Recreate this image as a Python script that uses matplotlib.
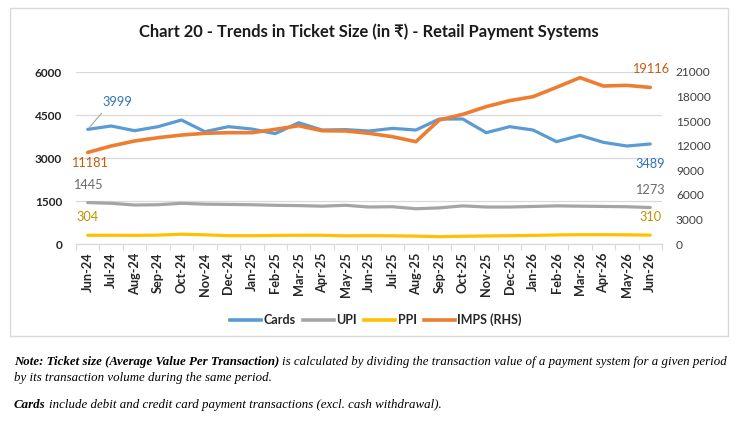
"""Chart 20 - Trends in Ticket Size (in ₹) - Retail Payment Systems."""

import matplotlib
matplotlib.use("Agg")
import matplotlib.pyplot as plt
from matplotlib.patches import Rectangle
import numpy as np

# ---------------------------------------------------------------------------
# Data
# ---------------------------------------------------------------------------
months = ["Jun-24", "Jul-24", "Aug-24", "Sep-24", "Oct-24", "Nov-24", "Dec-24",
          "Jan-25", "Feb-25", "Mar-25", "Apr-25", "May-25", "Jun-25", "Jul-25",
          "Aug-25", "Sep-25", "Oct-25", "Nov-25", "Dec-25", "Jan-26", "Feb-26",
          "Mar-26", "Apr-26", "May-26", "Jun-26"]

cards = [3999, 4116, 3953, 4093, 4325, 3918, 4093, 4011, 3850, 4230, 3976,
         3990, 3941, 4034, 3976, 4360, 4360, 3883, 4093, 3976, 3570, 3790,
         3546, 3418, 3489]
upi = [1445, 1420, 1360, 1370, 1420, 1390, 1380, 1370, 1350, 1340, 1320,
       1350, 1290, 1300, 1230, 1260, 1330, 1290, 1290, 1310, 1330, 1320,
       1310, 1300, 1273]
ppi = [304, 305, 300, 310, 340, 320, 290, 290, 300, 305, 305, 285, 290, 285,
       275, 255, 270, 280, 290, 300, 315, 325, 325, 320, 310]
imps = [11181, 11965, 12576, 12980, 13300, 13515, 13590, 13590, 14000, 14440,
        13830, 13800, 13515, 13100, 12490, 15140, 15830, 16770, 17500, 17990,
        19130, 20310, 19290, 19370, 19116]

left_ticks = [0, 1500, 3000, 4500, 6000]
right_ticks = [0, 3000, 6000, 9000, 12000, 15000, 18000, 21000]

# ---------------------------------------------------------------------------
# Style
# ---------------------------------------------------------------------------
COLORS = {
    "Cards": "#5B9BD5",
    "UPI": "#A5A5A5",
    "PPI": "#FFC000",
    "IMPS": "#ED7D31",
}
LABEL_COLORS = {
    "Cards": "#2E75B6",
    "UPI": "#6E6A6A",
    "PPI": "#BF9000",
    "IMPS": "#C55A11",
}
SANS = ["Lato", "DejaVu Sans"]
SERIF = ["Liberation Serif", "DejaVu Serif"]
NOTE_SIZE = 9.3

plt.rcParams["font.family"] = SANS

fig = plt.figure(figsize=(7.38, 4.23), dpi=100)
fig.patch.set_facecolor("white")

# light grey chart-area frame
fig.patches.append(Rectangle((10 / 738, 1 - 336 / 423), 718 / 738, 328 / 423,
                             transform=fig.transFigure, fill=False,
                             edgecolor="#D9D9D9", linewidth=1.0))

ax = fig.add_axes([76 / 738, 1 - 244 / 423, 586 / 738, 172 / 423])
ax2 = ax.twinx()

x = np.arange(len(months))

ax.plot(x, cards, color=COLORS["Cards"], linewidth=2.3, solid_capstyle="round", zorder=3)
ax.plot(x, upi, color=COLORS["UPI"], linewidth=2.3, solid_capstyle="round", zorder=3)
ax.plot(x, ppi, color=COLORS["PPI"], linewidth=2.3, solid_capstyle="round", zorder=3)
ax2.plot(x, imps, color=COLORS["IMPS"], linewidth=2.6, solid_capstyle="round", zorder=3)

ax.set_xlim(-0.5, len(months) - 0.5)
ax.set_ylim(0, 6000)
ax2.set_ylim(0, 21000)

ax.set_yticks(left_ticks)
ax.set_yticklabels([str(v) for v in left_ticks], fontsize=8.6, fontweight="bold",
                   color="#262626")
ax2.set_yticks(right_ticks)
ax2.set_yticklabels([str(v) for v in right_ticks], fontsize=8.6, color="#404040")

ax.set_xticks(x)
ax.set_xticklabels(months, rotation=90, fontsize=9.2, fontweight="bold", color="#262626")
ax.set_xticks(np.arange(-0.5, len(months), 1), minor=True)
ax.tick_params(axis="x", which="major", length=0, pad=6)
ax.tick_params(axis="x", which="minor", length=4, color="#D9D9D9", width=0.8)
ax.tick_params(axis="y", length=0, pad=10)
ax2.tick_params(axis="y", length=0, pad=10)

ax.grid(axis="y", color="#D9D9D9", linewidth=0.9)
ax.set_axisbelow(True)
for a in (ax, ax2):
    for side in ("top", "left", "right"):
        a.spines[side].set_visible(False)
    a.spines["bottom"].set_color("#D9D9D9")

# data labels at the first and last month
first, last = 0, len(months) - 1
lab = dict(fontsize=9.2, ha="center", va="center", textcoords="offset pixels")
ax.annotate(str(cards[first]), (first, cards[first]), xytext=(30, 27),
            color=LABEL_COLORS["Cards"],
            arrowprops=dict(arrowstyle="-", color="#A6A6A6", lw=0.8,
                            shrinkA=2, shrinkB=2, relpos=(0.1, 0.0)), **lab)
ax.annotate(str(cards[last]), (last, cards[last]), xytext=(0, -20),
            color=LABEL_COLORS["Cards"], **lab)
ax.annotate(str(upi[first]), (first, upi[first]), xytext=(0, 18),
            color=LABEL_COLORS["UPI"], **lab)
ax.annotate(str(upi[last]), (last, upi[last]), xytext=(0, 18),
            color=LABEL_COLORS["UPI"], **lab)
ax.annotate(str(ppi[first]), (first, ppi[first]), xytext=(0, 18),
            color=LABEL_COLORS["PPI"], **lab)
ax.annotate(str(ppi[last]), (last, ppi[last]), xytext=(0, 18),
            color=LABEL_COLORS["PPI"], **lab)
ax2.annotate(str(imps[first]), (first, imps[first]), xytext=(2, -11),
             color=LABEL_COLORS["IMPS"], **lab)
ax2.annotate(str(imps[last]), (last, imps[last]), xytext=(0, 18),
             color=LABEL_COLORS["IMPS"], **lab)

# title
fig.text(0.5, 1 - 32 / 423, "Chart 20 - Trends in Ticket Size (in ₹) - Retail Payment Systems",
         ha="center", va="center", fontsize=11.9, fontweight="bold", color="#1a1a1a",
         family=SANS)

# legend
handles = [plt.Line2D([], [], color=COLORS[k], linewidth=2.6) for k in COLORS]
leg = fig.legend(handles, ["Cards", "UPI", "PPI", "IMPS (RHS)"], loc="center",
                 bbox_to_anchor=(376 / 738, 1 - 320 / 423), ncol=4, frameon=False,
                 prop={"size": 9, "weight": "bold"}, handlelength=2.5,
                 handletextpad=0.2, columnspacing=0.55)
for t in leg.get_texts():
    t.set_color("#262626")

# notes below the chart
renderer = fig.canvas.get_renderer()


def note_line(y_px, bold_part, rest):
    t = fig.text(14 / 738, 1 - y_px / 423, bold_part, ha="left", va="center",
                 fontsize=NOTE_SIZE, style="italic", fontweight="bold", family=SERIF)
    bb = t.get_window_extent(renderer=renderer)
    fig.text((bb.x1 + 3) / fig.bbox.width, 1 - y_px / 423, rest, ha="left", va="center",
             fontsize=NOTE_SIZE, style="italic", family=SERIF)


note_line(362, "Note: Ticket size (Average Value Per Transaction)",
          "is calculated by dividing the transaction value of a payment system for a given period")
fig.text(14 / 738, 1 - 378 / 423, "by its transaction volume during the same period.",
         ha="left", va="center", fontsize=NOTE_SIZE, style="italic", family=SERIF)
note_line(405, "Cards", "include debit and credit card payment transactions (excl. cash withdrawal).")

fig.savefig("out.png", dpi=100, facecolor="white")
